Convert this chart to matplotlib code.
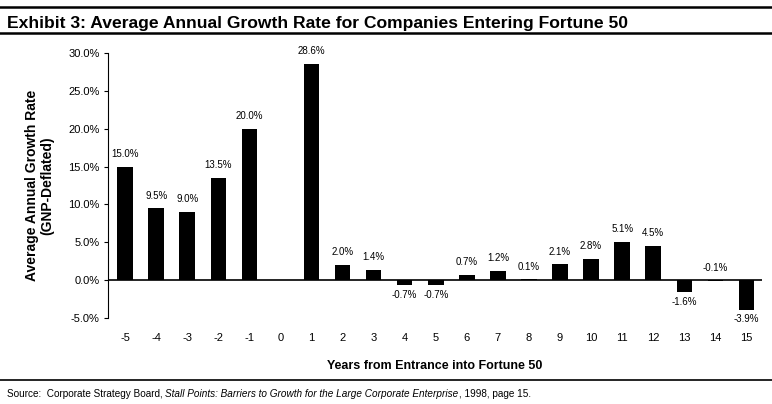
import matplotlib
matplotlib.use('Agg')
import matplotlib.pyplot as plt
from matplotlib.lines import Line2D

plt.rcParams['font.family'] = ['Liberation Sans', 'DejaVu Sans']

years = [-5, -4, -3, -2, -1, 0, 1, 2, 3, 4, 5, 6, 7, 8, 9, 10, 11, 12, 13, 14, 15]
growth = [15.0, 9.5, 9.0, 13.5, 20.0, None, 28.6, 2.0, 1.4, -0.7, -0.7, 0.7, 1.2, 0.1,
          2.1, 2.8, 5.1, 4.5, -1.6, -0.1, -3.9]
yticks = [-5, 0, 5, 10, 15, 20, 25, 30]

fig = plt.figure(figsize=(7.72, 4.04), dpi=100)
ax = fig.add_axes([0.1399, 0.2129, 0.8471, 0.6559])

xs = [x for x, v in zip(years, growth) if v is not None]
vs = [v for v in growth if v is not None]
ax.bar(xs, vs, width=0.5, color='black', zorder=3)

for x, v in zip(xs, vs):
    if v < -0.5:
        ax.text(x, v - 0.6, f'{v:.1f}%', ha='center', va='top', fontsize=7)
    else:
        ax.text(x, max(v, 0) + 1.0, f'{v:.1f}%', ha='center', va='bottom', fontsize=7)

ax.axhline(0, color='black', lw=1.2, zorder=4)
ax.set_xlim(-5.55, 15.5)
ax.set_ylim(-5, 30)
ax.set_yticks(yticks)
ax.set_yticklabels([f'{t:.1f}%' for t in yticks], fontsize=8)
ax.set_xticks(years)
ax.set_xticklabels([str(y) for y in years], fontsize=8)
ax.tick_params(axis='x', length=0, pad=11)
ax.tick_params(axis='y', length=3, width=0.8, direction='out', pad=3)
for s in ['top', 'right', 'bottom']:
    ax.spines[s].set_visible(False)
ax.spines['left'].set_linewidth(0.8)

ax.set_xlabel('Years from Entrance into Fortune 50', fontsize=9, fontweight='bold', labelpad=12)
ax.set_ylabel('Average Annual Growth Rate\n(GNP-Deflated)', fontsize=10, fontweight='bold',
              labelpad=10, linespacing=1.1)

fig.text(0.009, 0.943, 'Exhibit 3: Average Annual Growth Rate for Companies Entering Fortune 50',
         fontsize=12.6, fontweight='bold', va='center', ha='left')
fig.add_artist(Line2D([0, 1], [0.982, 0.982], transform=fig.transFigure, color='black', lw=1.8))
fig.add_artist(Line2D([0, 1], [0.918, 0.918], transform=fig.transFigure, color='black', lw=1.8))
fig.add_artist(Line2D([0, 1], [0.059, 0.059], transform=fig.transFigure, color='black', lw=1.2))

# source line with italic title
parts = [('Source:  Corporate Strategy Board, ', 'normal'),
         ('Stall Points: Barriers to Growth for the Large Corporate Enterprise', 'italic'),
         (', 1998, page 15.', 'normal')]
renderer = fig.canvas.get_renderer()
xpos = 0.009
for txt, style in parts:
    t = fig.text(xpos, 0.024, txt, fontsize=7.2, style=style, va='center', ha='left')
    bb = t.get_window_extent(renderer=renderer)
    xpos += bb.width / fig.bbox.width

fig.savefig('out.png', dpi=100)
